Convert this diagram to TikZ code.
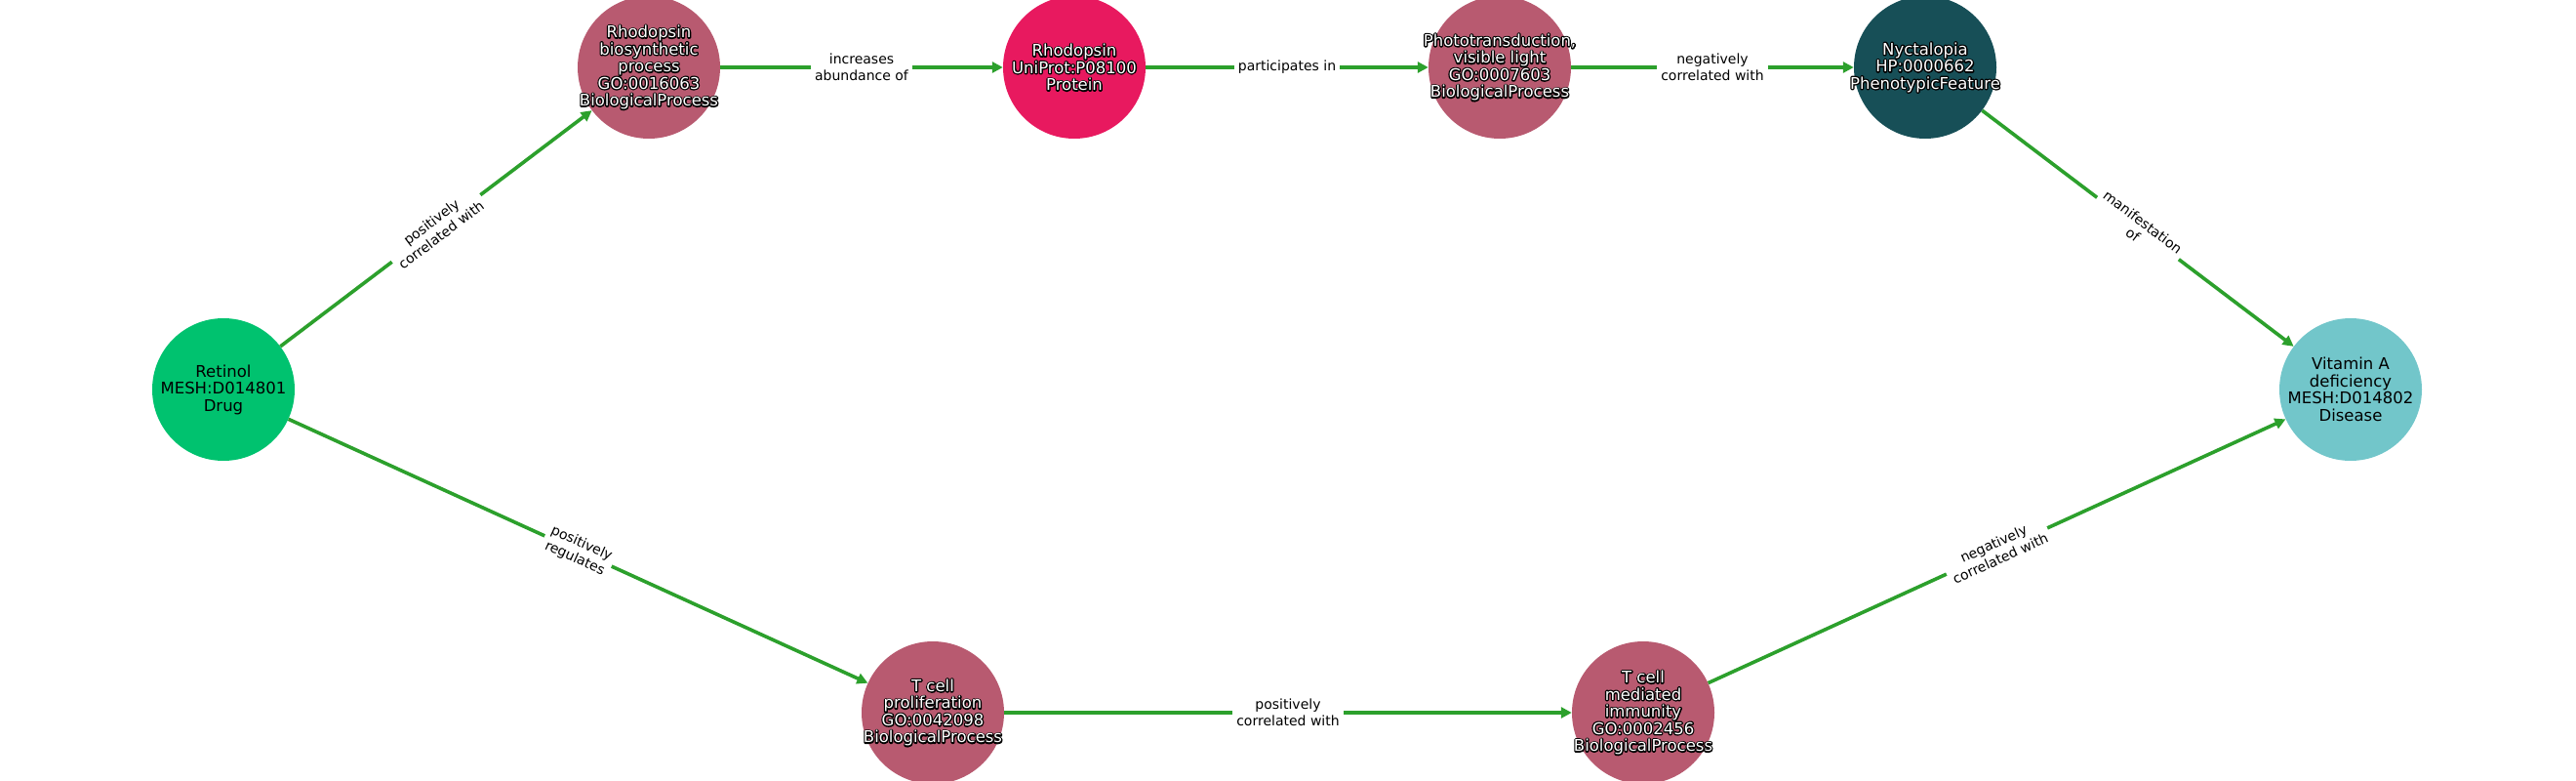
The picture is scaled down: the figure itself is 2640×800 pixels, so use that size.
\documentclass[tikz,border=0pt]{standalone}
\usepackage{fontspec}
\setmainfont{DejaVu Sans}
\usetikzlibrary{arrows.meta}
\definecolor{cdrug}{HTML}{00C26F}
\definecolor{cbp}{HTML}{B85A70}
\definecolor{cprot}{HTML}{E8195F}
\definecolor{cpheno}{HTML}{174F57}
\definecolor{cdis}{HTML}{72C6CA}
\definecolor{cedge}{HTML}{2CA02C}
\newcommand{\olt}[1]{\rlap{\special{pdf:literal direct 1 Tr 2.6 w 1 j 0 0 0 RG}#1\special{pdf:literal direct 0 Tr}}#1}
\begin{document}
\begin{tikzpicture}[x=1pt,y=-1pt,
 ent/.style={circle, minimum size=146pt, inner sep=0pt},
 ttxt/.style={align=center, inner sep=0pt, font=\fontsize{16.5}{17.5}\selectfont, text=black},
 dtxt/.style={ttxt, text=white},
 rel/.style={draw=cedge, line width=3.6pt, -{Triangle[length=11pt,width=11pt]}},
 lbl/.style={fill=white, inner sep=4pt, align=center, font=\fontsize{14}{16.7}\selectfont, text=black, midway, sloped}]
\useasboundingbox (0,0) rectangle (2640,800);
\node[ent, fill=cdrug] (ret) at (229,399) {};
\node[ttxt] (ret-t) at (ret.center) {Retinol\\MESH:D014801\\Drug};
\node[ent, fill=cbp] (rbp) at (665,69) {};
\node[dtxt] (rbp-t) at (rbp.center) {\olt{Rhodopsin}\\\olt{biosynthetic}\\\olt{process}\\\olt{GO:0016063}\\\olt{BiologicalProcess}};
\node[ent, fill=cprot] (rho) at (1101,69) {};
\node[dtxt] (rho-t) at (rho.center) {\olt{Rhodopsin}\\\olt{UniProt:P08100}\\\olt{Protein}};
\node[ent, fill=cbp] (pht) at (1537,69) {};
\node[dtxt] (pht-t) at (pht.center) {\olt{Phototransduction,}\\\olt{visible light}\\\olt{GO:0007603}\\\olt{BiologicalProcess}};
\node[ent, fill=cpheno] (nyc) at (1973,69) {};
\node[dtxt] (nyc-t) at (nyc.center) {\olt{Nyctalopia}\\\olt{HP:0000662}\\\olt{PhenotypicFeature}};
\node[ent, fill=cdis] (vad) at (2409,399) {};
\node[ttxt] (vad-t) at (vad.center) {Vitamin A\\deficiency\\MESH:D014802\\Disease};
\node[ent, fill=cbp] (tcp) at (956,730) {};
\node[dtxt] (tcp-t) at (tcp.center) {\olt{T cell}\\\olt{proliferation}\\\olt{GO:0042098}\\\olt{BiologicalProcess}};
\node[ent, fill=cbp] (tcm) at (1684,730) {};
\node[dtxt] (tcm-t) at (tcm.center) {\olt{T cell}\\\olt{mediated}\\\olt{immunity}\\\olt{GO:0002456}\\\olt{BiologicalProcess}};
\draw[rel] (ret) -- node[lbl]{positively\\correlated with} (rbp);
\draw[rel] (rbp) -- node[lbl]{increases\\abundance of} (rho);
\draw[rel] (rho) -- node[lbl]{participates in} (pht);
\draw[rel] (pht) -- node[lbl]{negatively\\correlated with} (nyc);
\draw[rel] (nyc) -- node[lbl]{manifestation\\of} (vad);
\draw[rel] (ret) -- node[lbl]{positively\\regulates} (tcp);
\draw[rel] (tcp) -- node[lbl]{positively\\correlated with} (tcm);
\draw[rel] (tcm) -- node[lbl]{negatively\\correlated with} (vad);
\end{tikzpicture}
\end{document}
